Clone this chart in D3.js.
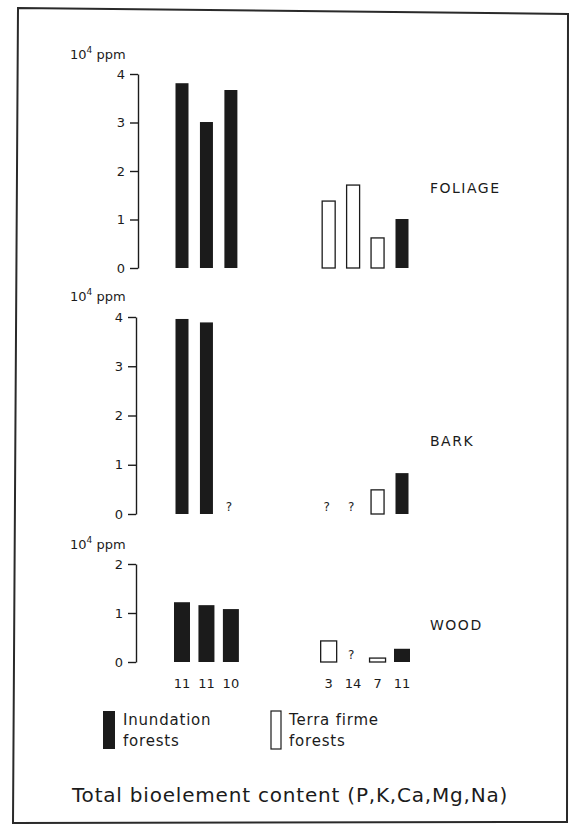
<!DOCTYPE html>
<html>
<head>
<meta charset="utf-8">
<script src="https://cdn.jsdelivr.net/npm/d3@7"></script>
<style>
  body { margin: 0; background: #fff; }
  svg { display: block; font-family: 'DejaVu Sans', sans-serif; }
</style>
</head>
<body>
<div id="chart"></div>
<script>
// bars in drawing order, left group = inundation, right group = terra firme + one inundation
const categories = ['Inundation A', 'Inundation B', 'Inundation C', 'Terra firme A', 'Terra firme B', 'Terra firme C', 'Inundation D']
const forestType = ['inundation', 'inundation', 'inundation', 'terra', 'terra', 'terra', 'inundation']
const sampleSizes = [11, 11, 10, 3, 14, 7, 11]

// values in 10^4 ppm, null = not known ("?")
const foliage = [3.81, 3.01, 3.67, 1.38, 1.71, 0.62, 1.01]
const bark = [3.96, 3.89, null, null, null, 0.49, 0.83]
const wood = [1.22, 1.16, 1.08, 0.43, null, 0.08, 0.27]

const foliageTicks = [0, 1, 2, 3, 4]
const barkTicks = [0, 1, 2, 3, 4]
const woodTicks = [0, 1, 2]

const width = 574
const height = 825
const ink = '#1b1b1b'

const svg = d3.select('#chart')
  .append('svg')
  .attr('width', width)
  .attr('height', height)

// page frame
svg.append('path')
  .attr('d', 'M18,8 L568,14 L567,822 L13,823 Z')
  .attr('fill', 'none')
  .attr('stroke', '#2a2a2a')
  .attr('stroke-width', 2)

// slot positions: three empty slots between the two groups
const slots = [...categories.slice(0, 3), 'gap1', 'gap2', 'gap3', ...categories.slice(3)]
const xScale = d3.scalePoint()
  .domain(slots)
  .range([182, 402])

const panels = [
  { name: 'FOLIAGE', values: foliage, ticks: foliageTicks, domain: [0, 4], range: [268, 74], axisX: 138, barW: 13, unitY: 59, labelY: 193 },
  { name: 'BARK', values: bark, ticks: barkTicks, domain: [0, 4], range: [514, 317], axisX: 136, barW: 13, unitY: 301, labelY: 446 },
  { name: 'WOOD', values: wood, ticks: woodTicks, domain: [0, 2], range: [662, 564], axisX: 136, barW: 16, unitY: 549, labelY: 630 }
]

panels.forEach(p => {
  const yScale = d3.scaleLinear().domain(p.domain).range(p.range)

  const axis = svg.append('g')
    .attr('transform', `translate(${p.axisX},0)`)
    .call(d3.axisLeft(yScale).tickValues(p.ticks).tickFormat(d3.format('d')).tickSize(8).tickSizeOuter(0).tickPadding(5))
  axis.selectAll('path, line').attr('stroke', ink).attr('stroke-width', 1.4)
  axis.selectAll('text').attr('fill', ink).attr('font-size', 13).attr('font-family', 'DejaVu Sans')

  const unit = svg.append('text')
    .attr('x', 70)
    .attr('y', p.unitY)
    .attr('fill', ink)
    .attr('font-size', 13)
  unit.append('tspan').text('10')
  unit.append('tspan').attr('font-size', 9).attr('dy', -6).text('4')
  unit.append('tspan').attr('dy', 6).text(' ppm')

  const rows = categories.map((c, i) => ({ cat: c, type: forestType[i], value: p.values[i] }))

  svg.selectAll(null)
    .data(rows.filter(d => d.value !== null))
    .enter().append('rect')
    .attr('x', d => xScale(d.cat) - p.barW / 2)
    .attr('y', d => yScale(d.value))
    .attr('width', p.barW)
    .attr('height', d => yScale(0) - yScale(d.value))
    .attr('fill', d => d.type === 'inundation' ? ink : '#fff')
    .attr('stroke', ink)
    .attr('stroke-width', d => d.type === 'inundation' ? 0 : 1.3)

  svg.selectAll(null)
    .data(rows.filter(d => d.value === null))
    .enter().append('text')
    .attr('x', d => xScale(d.cat) - 2)
    .attr('y', yScale(0) - 3)
    .attr('text-anchor', 'middle')
    .attr('font-size', 12)
    .attr('fill', ink)
    .text('?')

  svg.append('text')
    .attr('x', 430)
    .attr('y', p.labelY)
    .attr('font-size', 14)
    .attr('letter-spacing', 1.5)
    .attr('fill', ink)
    .text(p.name)

  if (p.name === 'WOOD') {
    svg.selectAll(null)
      .data(categories)
      .enter().append('text')
      .attr('x', (d, i) => xScale(d))
      .attr('y', 688)
      .attr('text-anchor', 'middle')
      .attr('font-size', 13)
      .attr('fill', ink)
      .text((d, i) => sampleSizes[i])
  }
})

// legend
const legend = [
  { label: ['Inundation', 'forests'], type: 'inundation', x: 103, w: 12 },
  { label: ['Terra firme', 'forests'], type: 'terra', x: 271, w: 10 }
]
legend.forEach(l => {
  svg.append('rect')
    .attr('x', l.x)
    .attr('y', 711)
    .attr('width', l.w)
    .attr('height', 38)
    .attr('fill', l.type === 'inundation' ? ink : '#fff')
    .attr('stroke', ink)
    .attr('stroke-width', l.type === 'inundation' ? 0 : 1.2)
  l.label.forEach((t, j) => {
    svg.append('text')
      .attr('x', l.x + l.w + 8)
      .attr('y', 725 + j * 21)
      .attr('font-size', 15)
      .attr('letter-spacing', 0.8)
      .attr('fill', ink)
      .text(t)
  })
})

svg.append('text')
  .attr('x', 72)
  .attr('y', 802)
  .attr('font-size', 20)
  .attr('letter-spacing', 0.8)
  .attr('fill', ink)
  .text('Total bioelement content (P,K,Ca,Mg,Na)')
</script>
</body>
</html>
